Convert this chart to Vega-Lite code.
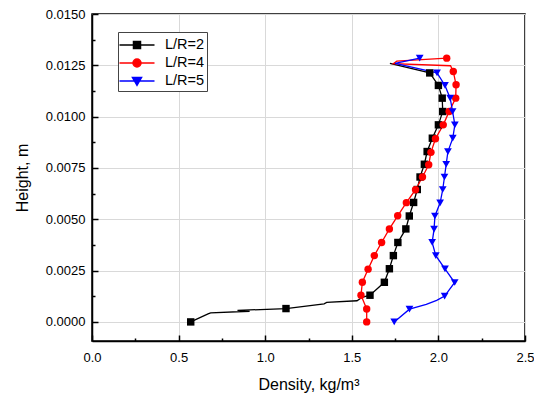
{
  "$schema": "https://vega.github.io/schema/vega-lite/v6.json",
  "width": 433,
  "height": 327,
  "autosize": "none",
  "padding": {"left": 92, "top": 14, "right": 9, "bottom": 55},
  "background": "white",
  "config": {
    "font": "Liberation Sans",
    "view": {"stroke": "black", "strokeWidth": 1.5},
    "axis": {
      "labelFont": "Liberation Sans",
      "titleFont": "Liberation Sans",
      "labelFontSize": 13,
      "titleFontSize": 16,
      "titleFontWeight": "normal",
      "labelColor": "black",
      "titleColor": "black",
      "domainColor": "black",
      "domainWidth": 1.5,
      "tickColor": "black",
      "tickWidth": 1.5,
      "gridColor": "#d9d9d9",
      "gridWidth": 1
    }
  },
  "data": {
    "values": [
      {"series": "L/R=2", "i": 1, "density": 0.57, "height": 0.0, "sampled": true},
      {"series": "L/R=2", "i": 2, "density": 0.67, "height": 0.00039, "sampled": false},
      {"series": "L/R=2", "i": 3, "density": 0.685, "height": 0.00044, "sampled": false},
      {"series": "L/R=2", "i": 4, "density": 0.91, "height": 0.00052, "sampled": false},
      {"series": "L/R=2", "i": 5, "density": 0.84, "height": 0.00056, "sampled": false},
      {"series": "L/R=2", "i": 6, "density": 1.12, "height": 0.00065, "sampled": true},
      {"series": "L/R=2", "i": 7, "density": 1.34, "height": 0.00088, "sampled": false},
      {"series": "L/R=2", "i": 8, "density": 1.355, "height": 0.00095, "sampled": false},
      {"series": "L/R=2", "i": 9, "density": 1.53, "height": 0.00103, "sampled": false},
      {"series": "L/R=2", "i": 10, "density": 1.56, "height": 0.0012, "sampled": false},
      {"series": "L/R=2", "i": 11, "density": 1.605, "height": 0.0013, "sampled": true},
      {"series": "L/R=2", "i": 12, "density": 1.688, "height": 0.00193, "sampled": true},
      {"series": "L/R=2", "i": 13, "density": 1.717, "height": 0.00259, "sampled": true},
      {"series": "L/R=2", "i": 14, "density": 1.74, "height": 0.00323, "sampled": true},
      {"series": "L/R=2", "i": 15, "density": 1.766, "height": 0.00387, "sampled": true},
      {"series": "L/R=2", "i": 16, "density": 1.812, "height": 0.00453, "sampled": true},
      {"series": "L/R=2", "i": 17, "density": 1.832, "height": 0.00516, "sampled": true},
      {"series": "L/R=2", "i": 18, "density": 1.857, "height": 0.00582, "sampled": true},
      {"series": "L/R=2", "i": 19, "density": 1.878, "height": 0.00645, "sampled": true},
      {"series": "L/R=2", "i": 20, "density": 1.894, "height": 0.00706, "sampled": true},
      {"series": "L/R=2", "i": 21, "density": 1.919, "height": 0.00768, "sampled": true},
      {"series": "L/R=2", "i": 22, "density": 1.935, "height": 0.0083, "sampled": true},
      {"series": "L/R=2", "i": 23, "density": 1.965, "height": 0.00895, "sampled": true},
      {"series": "L/R=2", "i": 24, "density": 2.0, "height": 0.0096, "sampled": true},
      {"series": "L/R=2", "i": 25, "density": 2.025, "height": 0.01025, "sampled": true},
      {"series": "L/R=2", "i": 26, "density": 2.022, "height": 0.0109, "sampled": true},
      {"series": "L/R=2", "i": 27, "density": 2.0, "height": 0.01152, "sampled": true},
      {"series": "L/R=2", "i": 28, "density": 1.95, "height": 0.01213, "sampled": true},
      {"series": "L/R=2", "i": 29, "density": 1.72, "height": 0.0126, "sampled": false},

      {"series": "L/R=4", "i": 1, "density": 1.586, "height": 0.0, "sampled": true},
      {"series": "L/R=4", "i": 2, "density": 1.586, "height": 0.00063, "sampled": true},
      {"series": "L/R=4", "i": 3, "density": 1.553, "height": 0.0013, "sampled": true},
      {"series": "L/R=4", "i": 4, "density": 1.561, "height": 0.00193, "sampled": true},
      {"series": "L/R=4", "i": 5, "density": 1.594, "height": 0.00257, "sampled": true},
      {"series": "L/R=4", "i": 6, "density": 1.63, "height": 0.00323, "sampled": true},
      {"series": "L/R=4", "i": 7, "density": 1.672, "height": 0.00387, "sampled": true},
      {"series": "L/R=4", "i": 8, "density": 1.717, "height": 0.00453, "sampled": true},
      {"series": "L/R=4", "i": 9, "density": 1.765, "height": 0.00517, "sampled": true},
      {"series": "L/R=4", "i": 10, "density": 1.815, "height": 0.00581, "sampled": true},
      {"series": "L/R=4", "i": 11, "density": 1.868, "height": 0.00644, "sampled": true},
      {"series": "L/R=4", "i": 12, "density": 1.908, "height": 0.00706, "sampled": true},
      {"series": "L/R=4", "i": 13, "density": 1.944, "height": 0.00766, "sampled": true},
      {"series": "L/R=4", "i": 14, "density": 1.957, "height": 0.00826, "sampled": true},
      {"series": "L/R=4", "i": 15, "density": 1.983, "height": 0.00892, "sampled": true},
      {"series": "L/R=4", "i": 16, "density": 2.028, "height": 0.0096, "sampled": true},
      {"series": "L/R=4", "i": 17, "density": 2.062, "height": 0.01025, "sampled": true},
      {"series": "L/R=4", "i": 18, "density": 2.1, "height": 0.0109, "sampled": true},
      {"series": "L/R=4", "i": 19, "density": 2.102, "height": 0.01155, "sampled": true},
      {"series": "L/R=4", "i": 20, "density": 2.086, "height": 0.0122, "sampled": true},
      {"series": "L/R=4", "i": 21, "density": 2.07, "height": 0.01248, "sampled": false},
      {"series": "L/R=4", "i": 22, "density": 1.74, "height": 0.01258, "sampled": false},
      {"series": "L/R=4", "i": 23, "density": 1.76, "height": 0.0127, "sampled": false},
      {"series": "L/R=4", "i": 24, "density": 2.048, "height": 0.01285, "sampled": true},

      {"series": "L/R=5", "i": 1, "density": 1.745, "height": 0.0, "sampled": true},
      {"series": "L/R=5", "i": 2, "density": 1.833, "height": 0.00062, "sampled": true},
      {"series": "L/R=5", "i": 3, "density": 1.93, "height": 0.00085, "sampled": false},
      {"series": "L/R=5", "i": 4, "density": 1.99, "height": 0.00105, "sampled": false},
      {"series": "L/R=5", "i": 5, "density": 2.036, "height": 0.00126, "sampled": true},
      {"series": "L/R=5", "i": 6, "density": 2.094, "height": 0.00192, "sampled": true},
      {"series": "L/R=5", "i": 7, "density": 2.038, "height": 0.00258, "sampled": true},
      {"series": "L/R=5", "i": 8, "density": 1.985, "height": 0.00323, "sampled": true},
      {"series": "L/R=5", "i": 9, "density": 1.964, "height": 0.00387, "sampled": true},
      {"series": "L/R=5", "i": 10, "density": 1.975, "height": 0.00452, "sampled": true},
      {"series": "L/R=5", "i": 11, "density": 1.98, "height": 0.00516, "sampled": true},
      {"series": "L/R=5", "i": 12, "density": 2.01, "height": 0.0058, "sampled": true},
      {"series": "L/R=5", "i": 13, "density": 2.025, "height": 0.00645, "sampled": true},
      {"series": "L/R=5", "i": 14, "density": 2.035, "height": 0.00706, "sampled": true},
      {"series": "L/R=5", "i": 15, "density": 2.045, "height": 0.00768, "sampled": true},
      {"series": "L/R=5", "i": 16, "density": 2.055, "height": 0.0083, "sampled": true},
      {"series": "L/R=5", "i": 17, "density": 2.083, "height": 0.00895, "sampled": true},
      {"series": "L/R=5", "i": 18, "density": 2.095, "height": 0.0096, "sampled": true},
      {"series": "L/R=5", "i": 19, "density": 2.082, "height": 0.01025, "sampled": true},
      {"series": "L/R=5", "i": 20, "density": 2.068, "height": 0.0109, "sampled": true},
      {"series": "L/R=5", "i": 21, "density": 2.038, "height": 0.01152, "sampled": true},
      {"series": "L/R=5", "i": 22, "density": 1.992, "height": 0.01213, "sampled": true},
      {"series": "L/R=5", "i": 23, "density": 1.75, "height": 0.0126, "sampled": false},
      {"series": "L/R=5", "i": 24, "density": 1.892, "height": 0.01285, "sampled": true}
    ]
  },
  "encoding": {
    "x": {
      "field": "density",
      "type": "quantitative",
      "scale": {"domain": [0, 2.5], "nice": false, "zero": false},
      "axis": {
        "title": "Density, kg/m³",
        "values": [0, 0.25, 0.5, 0.75, 1, 1.25, 1.5, 1.75, 2, 2.25, 2.5],
        "labelExpr": "abs(datum.value/0.5 - round(datum.value/0.5)) < 1e-6 ? format(datum.value, '.1f') : ''",
        "tickSize": {"condition": {"test": "abs(datum.value/0.5 - round(datum.value/0.5)) < 1e-6", "value": -6}, "value": -3},
        "gridOpacity": {"condition": {"test": "abs(datum.value/0.5 - round(datum.value/0.5)) < 1e-6", "value": 1}, "value": 0},
        "labelPadding": 16,
        "labelFlush": false,
        "labelOverlap": false,
        "titlePadding": 9
      }
    },
    "y": {
      "field": "height",
      "type": "quantitative",
      "scale": {"domain": [-0.00093, 0.015], "nice": false, "zero": false},
      "axis": {
        "title": "Height, m",
        "values": [0, 0.00125, 0.0025, 0.00375, 0.005, 0.00625, 0.0075, 0.00875, 0.01, 0.01125, 0.0125, 0.01375, 0.015],
        "labelExpr": "abs(datum.value/0.0025 - round(datum.value/0.0025)) < 1e-6 ? format(datum.value, '.4f') : ''",
        "tickSize": {"condition": {"test": "abs(datum.value/0.0025 - round(datum.value/0.0025)) < 1e-6", "value": -6}, "value": -3},
        "gridOpacity": {"condition": {"test": "abs(datum.value/0.0025 - round(datum.value/0.0025)) < 1e-6", "value": 1}, "value": 0},
        "labelPadding": 13,
        "labelFlush": false,
        "labelOverlap": false,
        "titlePadding": 15
      }
    },
    "color": {
      "field": "series",
      "type": "nominal",
      "scale": {"domain": ["L/R=2", "L/R=4", "L/R=5"], "range": ["#000000", "#ff0000", "#0000ff"]},
      "legend": {
        "title": null,
        "orient": "none",
        "legendX": 26,
        "legendY": 18,
        "strokeColor": "#444444",
        "fillColor": "white",
        "padding": 2,
        "cornerRadius": 0,
        "labelFont": "Liberation Sans",
        "labelFontSize": 14.5,
        "labelColor": "black",
        "symbolSize": 400,
        "symbolStrokeWidth": 1.5,
        "symbolOffset": 6,
        "labelOffset": 17,
        "rowPadding": 0,
        "encode": {
          "symbols": {
            "update": {
              "shape": {"signal": "datum.value === 'L/R=2' ? 'M-1.75,0H1.75M-0.35,-0.35H0.35V0.35H-0.35Z' : datum.value === 'L/R=4' ? 'M-1.75,0H1.75M0.4,0A0.4,0.4,0,1,1,-0.4,0A0.4,0.4,0,1,1,0.4,0Z' : 'M-1.75,0H1.75M-0.45,-0.35H0.45L0,0.42Z'"},
              "fill": {"scale": "color", "field": "value"},
              "stroke": {"scale": "color", "field": "value"},
              "strokeWidth": {"value": 1.5},
              "size": {"value": 400},
              "opacity": {"value": 1},
              "fillOpacity": {"value": 1}
            }
          }
        }
      }
    }
  },
  "layer": [
    {
      "mark": {"type": "line", "strokeWidth": 1.3},
      "encoding": {
        "order": {"field": "i", "type": "quantitative"}
      }
    },
    {
      "transform": [{"filter": "datum.sampled && datum.series === 'L/R=2'"}],
      "mark": {"type": "point", "shape": "square", "filled": true, "opacity": 1, "size": 55}
    },
    {
      "transform": [{"filter": "datum.sampled && datum.series === 'L/R=4'"}],
      "mark": {"type": "point", "shape": "circle", "filled": true, "opacity": 1, "size": 55}
    },
    {
      "transform": [{"filter": "datum.sampled && datum.series === 'L/R=5'"}],
      "mark": {"type": "point", "shape": "triangle-down", "filled": true, "opacity": 1, "size": 60}
    }
  ]
}
